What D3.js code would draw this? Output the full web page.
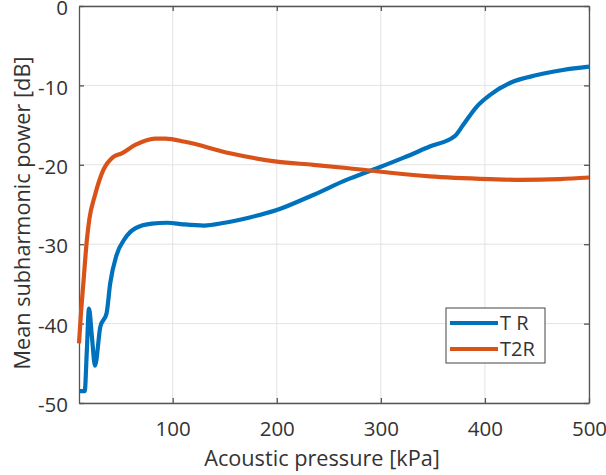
<!DOCTYPE html>
<html>
<head>
<meta charset="utf-8">
<script src="https://cdn.jsdelivr.net/npm/d3@7"></script>
<style>
  body { margin: 0; background: #fff; }
  text { font-family: "Open Sans", "Noto Sans", sans-serif; fill: #333; }
</style>
</head>
<body>
<div id="chart"></div>
<script>
// data
var seriesNames = ["T R", "T2R"];

var trX = [10, 15.5, 17.5, 19.6, 22.5, 25.4, 30.5, 36.5, 40, 46, 54, 64, 80, 95, 110, 130, 150, 175, 200, 235, 267, 293, 322, 347, 371, 379, 392, 405, 424, 450, 475, 500];
var trY = [-48.5, -48.5, -43.5, -38.1, -41.8, -45.3, -40.4, -38.7, -34.9, -31.4, -29.3, -28.0, -27.4, -27.3, -27.5, -27.65, -27.3, -26.6, -25.7, -23.8, -21.9, -20.6, -19.1, -17.7, -16.4, -15.0, -12.7, -11.2, -9.7, -8.7, -8.06, -7.64];

var t2rX = [10, 12, 14.2, 17.4, 20, 25.4, 33.4, 43, 51, 64, 83, 93, 112, 155, 200, 235, 267, 309, 347, 405, 434, 472, 500];
var t2rY = [-42.5, -38.5, -34.9, -29.7, -26.8, -23.8, -20.65, -19.0, -18.55, -17.5, -16.7, -16.7, -17.1, -18.55, -19.6, -20.0, -20.4, -21.0, -21.45, -21.8, -21.9, -21.8, -21.6];

var xTicks = [100, 200, 300, 400, 500];
var yTicks = [0, -10, -20, -30, -40, -50];

var svgWidth = 606, svgHeight = 475;
var margin = {top: 6, right: 17, bottom: 72, left: 79};
var chartWidth = svgWidth - margin.left - margin.right;
var chartHeight = svgHeight - margin.top - margin.bottom;

var colors = ["#0072BD", "#D95319"];
var axisColor = "#555";

var svg = d3.select("#chart").append("svg")
    .attr("width", svgWidth)
    .attr("height", svgHeight);

var chartGroup = svg.append("g")
    .attr("transform", `translate(${margin.left}, ${margin.top})`);

var xScale = d3.scaleLinear().domain([10, 500]).range([0, chartWidth]);
var yScale = d3.scaleLinear().domain([-50, 0]).range([chartHeight, 0]);

// grid
chartGroup.append("g").selectAll("line").data(xTicks).enter().append("line")
    .attr("x1", d => xScale(d)).attr("x2", d => xScale(d))
    .attr("y1", 0).attr("y2", chartHeight)
    .attr("stroke", "#e3e3e3").attr("stroke-width", 1);
chartGroup.append("g").selectAll("line").data(yTicks).enter().append("line")
    .attr("x1", 0).attr("x2", chartWidth)
    .attr("y1", d => yScale(d)).attr("y2", d => yScale(d))
    .attr("stroke", "#e3e3e3").attr("stroke-width", 1);

// axes (ticks inside, matlab style), plain hyphen for negatives
var plain = d => String(d);

function styleAxis(g) {
  g.select(".domain").attr("stroke", axisColor).attr("stroke-width", 1.3);
  g.selectAll(".tick line").attr("stroke", axisColor).attr("stroke-width", 1.3);
  g.selectAll("text").attr("font-size", "20.5px").attr("fill", "#3a3a3a")
    .attr("font-family", "'Open Sans', sans-serif");
}

chartGroup.append("g")
    .attr("transform", `translate(0, ${chartHeight})`)
    .call(d3.axisBottom(xScale).tickValues(xTicks).tickFormat(plain).tickSize(-5).tickPadding(18).tickSizeOuter(0))
    .call(styleAxis);

chartGroup.append("g")
    .call(d3.axisLeft(yScale).tickValues(yTicks).tickFormat(plain).tickSize(-5).tickPadding(11).tickSizeOuter(0))
    .call(styleAxis)
    .selectAll("text").attr("dy", "0.42em");

chartGroup.append("g")
    .call(d3.axisTop(xScale).tickValues(xTicks).tickSize(-5).tickFormat("").tickSizeOuter(0))
    .call(styleAxis);

chartGroup.append("g")
    .attr("transform", `translate(${chartWidth}, 0)`)
    .call(d3.axisRight(yScale).tickValues(yTicks).tickSize(-5).tickFormat("").tickSizeOuter(0))
    .call(styleAxis);

// lines
var line = d3.line()
    .x(d => xScale(d[0]))
    .y(d => yScale(d[1]))
    .curve(d3.curveMonotoneX);

var series = [d3.zip(trX, trY), d3.zip(t2rX, t2rY)];

chartGroup.selectAll(".series").data(series).enter().append("path")
    .attr("class", "series")
    .attr("d", line)
    .attr("fill", "none")
    .attr("stroke", (d, i) => colors[i])
    .attr("stroke-width", 4.2)
    .attr("stroke-linejoin", "round");

// axis labels
svg.append("text")
    .attr("x", 322)
    .attr("y", 466)
    .attr("text-anchor", "middle")
    .attr("font-size", "21.7px")
    .attr("fill", "#3a3a3a")
    .text("Acoustic pressure [kPa]");

svg.append("text")
    .attr("transform", "translate(30, 213) rotate(-90)")
    .attr("text-anchor", "middle")
    .attr("font-size", "21.7px")
    .attr("fill", "#3a3a3a")
    .text("Mean subharmonic power [dB]");

// legend
var legend = svg.append("g").attr("transform", "translate(446, 308)");
legend.append("rect")
    .attr("width", 99).attr("height", 55)
    .attr("fill", "#fff").attr("stroke", "#444").attr("stroke-width", 1);
seriesNames.forEach(function(name, i) {
  var ly = 15 + i * 26;
  legend.append("line")
    .attr("x1", 4).attr("x2", 52).attr("y1", ly).attr("y2", ly)
    .attr("stroke", colors[i]).attr("stroke-width", 4.2);
  legend.append("text")
    .attr("x", 54).attr("y", ly + 7)
    .attr("font-size", "20px").attr("fill", "#333")
    .text(name);
});
</script>
</body>
</html>
